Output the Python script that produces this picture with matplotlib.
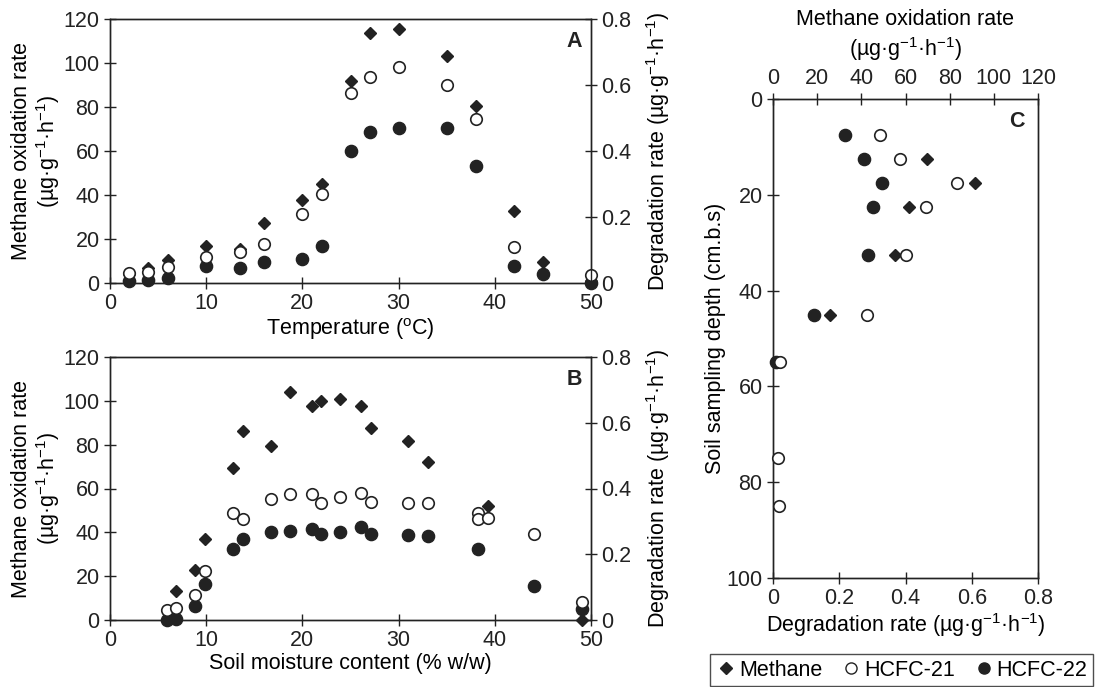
import matplotlib

matplotlib.use("Agg")
import matplotlib.pyplot as plt
import numpy as np
from matplotlib.lines import Line2D

plt.rcParams["font.family"] = ["Liberation Sans", "DejaVu Sans"]
plt.rcParams["mathtext.default"] = "regular"
plt.rcParams["axes.linewidth"] = 1.0

INK = "#222222"
FS = 15.5

UNIT = "(\u00b5g\u00b7g$^{-1}$\u00b7h$^{-1}$)"

# Panel A: temperature series
temp_c = [2, 4, 6, 10, 13.5, 16, 20, 22, 25, 27, 30, 35, 38, 42, 45, 50]
temp_methane = [4, 7, 10.4, 16.8, 15.6, 27.5, 37.6, 45, 92, 113.5, 115.3, 103.2, 80.4, 32.6, 9.5, 1]
temp_hcfc21 = [0.029, 0.034, 0.049, 0.080, 0.094, 0.117, 0.210, 0.271, 0.577, 0.625,
               0.656, 0.599, 0.496, 0.108, np.nan, 0.023]
temp_hcfc22 = [0.006, 0.010, 0.014, 0.052, 0.046, 0.064, 0.074, 0.111, 0.400, 0.458,
               0.471, 0.471, 0.355, 0.052, 0.027, 0.0]

# Panel B: soil moisture series
moist_methane_x = [6.9, 8.8, 9.9, 12.8, 13.8, 16.7, 18.7, 21.0, 21.9, 23.9, 26.1, 27.1,
                   31.0, 33.1, 39.3, 49.1]
moist_methane = [13.1, 22.6, 37.0, 69.5, 86.3, 79.5, 104, 97.6, 99.8, 101, 97.6, 87.8,
                 81.6, 72.2, 52, 0]
moist_hcfc21_x = [5.9, 6.9, 8.8, 9.9, 12.8, 13.8, 16.7, 18.7, 21.0, 21.9, 23.9, 26.1, 27.1,
                  31.0, 33.1, 38.3, 38.3, 39.3, 44.1, 49.1]
moist_hcfc21 = [0.031, 0.036, 0.077, 0.149, 0.326, 0.306, 0.367, 0.382, 0.382, 0.355, 0.373,
                0.387, 0.360, 0.355, 0.355, 0.324, 0.306, 0.309, 0.261, 0.056]
moist_hcfc22_x = [5.9, 6.9, 8.8, 9.9, 12.8, 13.8, 16.7, 18.7, 21.0, 21.9, 23.9, 26.1, 27.1,
                  31.0, 33.1, 38.3, 44.1, 49.1]
moist_hcfc22 = [0.0, 0.003, 0.044, 0.110, 0.217, 0.246, 0.268, 0.272, 0.277, 0.263, 0.268,
                0.282, 0.263, 0.259, 0.256, 0.216, 0.103, 0.033]

# Panel C: depth profile
depth_methane = [12.5, 17.5, 22.5, 32.5, 45, 55]
depth_methane_rate = [69.7, 91.6, 61.4, 55.4, 25.7, 2]
depth_hcfc21 = [7.5, 12.5, 17.5, 22.5, 32.5, 45, 55, 75, 85]
depth_hcfc21_rate = [0.324, 0.382, 0.555, 0.463, 0.401, 0.284, 0.022, 0.014, 0.017]
depth_hcfc22 = [7.5, 12.5, 17.5, 22.5, 32.5, 45, 55]
depth_hcfc22_rate = [0.218, 0.276, 0.329, 0.302, 0.287, 0.123, 0.010]

METHANE_STYLE = dict(marker="D", ms=6.5, color=INK, ls="none", clip_on=False)
OPEN_STYLE = dict(marker="o", ms=8.3, mfc="white", mec=INK, mew=1.2, ls="none", clip_on=False)
FILLED_STYLE = dict(marker="o", ms=8.8, color=INK, ls="none", clip_on=False)


def style_axis(ax):
    for spine in ax.spines.values():
        spine.set_color(INK)
    ax.tick_params(direction="inout", length=9, width=1.0, colors=INK,
                   labelsize=FS, pad=3)


def rate_formatter(v, _):
    return "0" if abs(v) < 1e-9 else f"{v:.1f}"


def side_panel(ax, xs_m, ys_m, xs_21, ys_21, xs_22, ys_22, letter, xlabel):
    ax.plot(xs_m, ys_m, **METHANE_STYLE)
    ax.set_xlim(0, 50)
    ax.set_ylim(0, 120)
    ax.set_xticks(range(0, 51, 10))
    ax.set_yticks(range(0, 121, 20))
    ax.set_ylabel("Methane oxidation rate\n" + UNIT, fontsize=FS, linespacing=1.1, labelpad=1)
    ax.set_xlabel(xlabel, fontsize=FS, labelpad=1)
    style_axis(ax)

    ax2 = ax.twinx()
    ax2.plot(xs_22, ys_22, **FILLED_STYLE)
    ax2.plot(xs_21, ys_21, **OPEN_STYLE)
    ax2.set_ylim(0, 0.8)
    ax2.set_yticks(np.arange(0, 0.81, 0.2))
    ax2.yaxis.set_major_formatter(plt.FuncFormatter(rate_formatter))
    ax2.set_ylabel("Degradation rate " + UNIT, fontsize=FS, labelpad=9)
    style_axis(ax2)
    ax.text(0.965, 0.915, letter, transform=ax.transAxes, ha="center", va="center",
            fontsize=FS, fontweight="bold", color=INK)


fig = plt.figure(figsize=(10.96, 6.87), dpi=100)
W, H = 1096, 687


def box(left, top, right, bottom):
    return [left / W, 1 - bottom / H, (right - left) / W, (bottom - top) / H]


ax_a = fig.add_axes(box(110, 19, 591, 283))
side_panel(ax_a, temp_c, temp_methane, temp_c, temp_hcfc21, temp_c, temp_hcfc22, "A",
           "Temperature ($^{o}$C)")

ax_b = fig.add_axes(box(110, 357, 591, 620))
side_panel(ax_b, moist_methane_x, moist_methane, moist_hcfc21_x, moist_hcfc21,
           moist_hcfc22_x, moist_hcfc22, "B", "Soil moisture content (% w/w)")

# Panel C
ax_c = fig.add_axes(box(773, 99, 1038, 578))
ax_c.set_xlim(0, 0.8)
ax_c.set_ylim(100, 0)
ax_c.set_xticks(np.arange(0, 0.81, 0.2))
ax_c.xaxis.set_major_formatter(plt.FuncFormatter(rate_formatter))
ax_c.set_yticks(range(0, 101, 20))
ax_c.set_xlabel("Degradation rate " + UNIT, fontsize=FS, labelpad=1)
ax_c.set_ylabel("Soil sampling depth (cm.b.s)", fontsize=FS, labelpad=0)
style_axis(ax_c)

ax_c2 = ax_c.twiny()
ax_c2.plot(depth_methane_rate, depth_methane, **METHANE_STYLE)
ax_c2.set_xlim(0, 120)
ax_c2.set_xticks(range(0, 121, 20))
ax_c2.set_xlabel("Methane oxidation rate\n" + UNIT, fontsize=FS, linespacing=1.25, labelpad=8)
style_axis(ax_c2)
ax_c2.set_ylim(100, 0)

ax_c3 = ax_c.twiny()
ax_c3.set_xlim(0, 0.8)
ax_c3.set_ylim(100, 0)
ax_c3.axis("off")
ax_c3.plot(depth_hcfc22_rate, depth_hcfc22, **FILLED_STYLE)
ax_c3.plot(depth_hcfc21_rate, depth_hcfc21, **OPEN_STYLE)
ax_c.text(0.92, 0.952, "C", transform=ax_c.transAxes, ha="center", va="center",
          fontsize=FS, fontweight="bold", color=INK)

handles = [
    Line2D([], [], marker="D", ms=6, color=INK, ls="none"),
    Line2D([], [], marker="o", ms=8, mfc="white", mec=INK, mew=1.0, ls="none"),
    Line2D([], [], marker="o", ms=8, color=INK, ls="none"),
]
leg = fig.legend(handles, ["Methane", "HCFC-21", "HCFC-22"], ncol=3,
                 loc="lower left", bbox_to_anchor=(710 / W, 1 / H, 383 / W, 36 / H),
                 mode="expand", fontsize=FS, frameon=True, fancybox=False,
                 handletextpad=0.1, columnspacing=0.8, handlelength=1.0,
                 borderpad=0.25, borderaxespad=0)
leg.get_frame().set_edgecolor(INK)
leg.get_frame().set_linewidth(1.0)

fig.savefig("out.png", dpi=100)
